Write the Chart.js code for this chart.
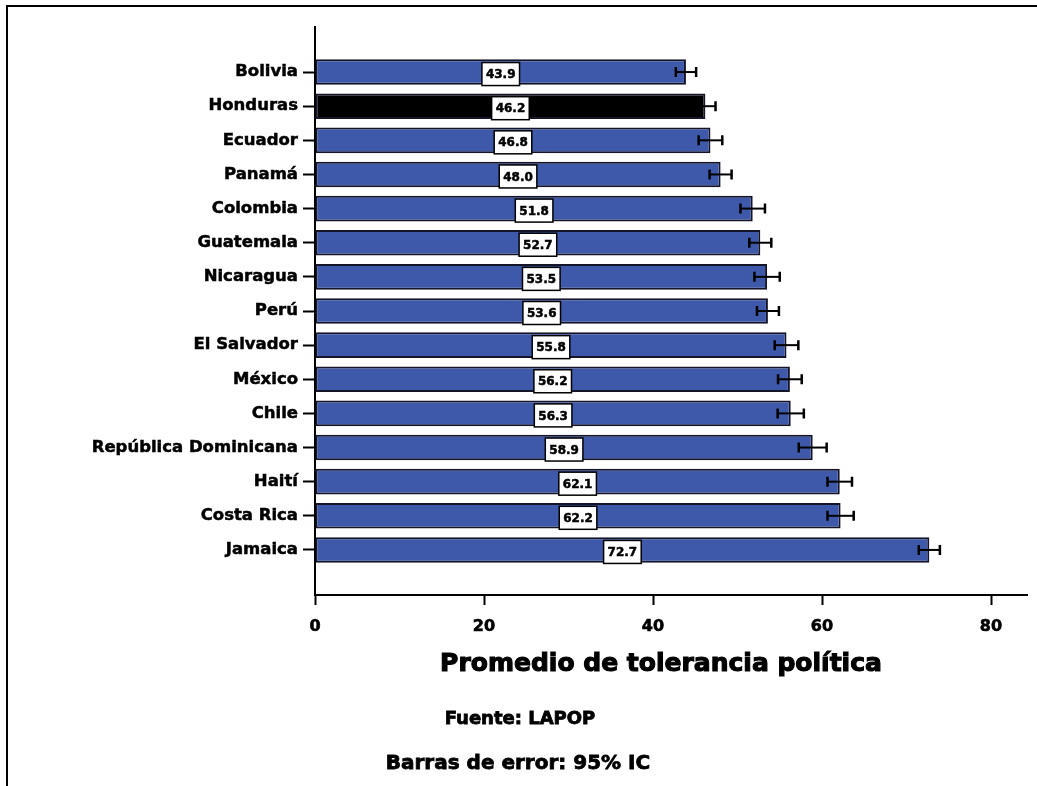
<!DOCTYPE html>
<html>
<head>
<meta charset="utf-8">
<script src="https://cdn.jsdelivr.net/npm/chart.js@4"></script>
<style>
  html, body { margin: 0; padding: 0; background: #fff; }
  #wrap { position: relative; width: 1037px; height: 786px; overflow: hidden; }
  #frame { position: absolute; left: 6px; top: 5px; width: 1100px; height: 900px;
           border-top: 2px solid #000; border-left: 2px solid #000; }
  canvas { position: absolute; left: 0; top: 0; }
  .note { position: absolute; width: 600px; text-align: center; color: #000;
          font-family: "DejaVu Sans", sans-serif; font-weight: bold; line-height: 1; white-space: nowrap;
          -webkit-text-stroke: 0.8px #000; }
</style>
</head>
<body>
<div id="wrap">
  <div id="frame"></div>
  <canvas id="chart" width="1037" height="786"></canvas>
  <div class="note" style="left:361px; top:650px; font-size:25px; -webkit-text-stroke: 1.1px #000;">Promedio de tolerancia política</div>
  <div class="note" style="left:220px; top:709px; font-size:18px;">Fuente: LAPOP</div>
  <div class="note" style="left:218px; top:752px; font-size:20px;">Barras de error: 95% IC</div>
</div>
<script>
const countries = ['Bolivia', 'Honduras', 'Ecuador', 'Panamá', 'Colombia', 'Guatemala', 'Nicaragua',
    'Perú', 'El Salvador', 'México', 'Chile', 'República Dominicana', 'Haití', 'Costa Rica', 'Jamaica'];
const values = [43.9, 46.2, 46.8, 48.0, 51.8, 52.7, 53.5, 53.6, 55.8, 56.2, 56.3, 58.9, 62.1, 62.2, 72.7];
// half width of the 95% confidence interval
const errors = [1.2, 1.2, 1.4, 1.3, 1.45, 1.3, 1.5, 1.3, 1.4, 1.4, 1.55, 1.65, 1.45, 1.55, 1.25];
const xTicks = [0, 20, 40, 60, 80];
const highlight = 'Honduras';

const blue = '#3e58aa';
const barColors = countries.map(c => c === highlight ? '#000000' : blue);

const errorBars = {
    id: 'errorBars',
    afterDatasetsDraw(chart) {
        const ctx = chart.ctx;
        const xs = chart.scales.x;
        const meta = chart.getDatasetMeta(0);
        ctx.save();
        ctx.strokeStyle = '#000';
        meta.data.forEach((bar, i) => {
            const lo = xs.getPixelForValue(values[i] - errors[i]);
            const hi = xs.getPixelForValue(values[i] + errors[i]);
            const y = bar.y;
            ctx.lineWidth = 2;
            ctx.beginPath();
            ctx.moveTo(lo, y);
            ctx.lineTo(hi, y);
            ctx.stroke();
            ctx.lineWidth = 2.5;
            ctx.beginPath();
            ctx.moveTo(lo, y - 5);
            ctx.lineTo(lo, y + 5);
            ctx.moveTo(hi, y - 5);
            ctx.lineTo(hi, y + 5);
            ctx.stroke();
        });
        ctx.restore();
    }
};

const valueBoxes = {
    id: 'valueBoxes',
    afterDatasetsDraw(chart) {
        const ctx = chart.ctx;
        const meta = chart.getDatasetMeta(0);
        ctx.save();
        ctx.font = 'bold 12px "DejaVu Sans"';
        ctx.textAlign = 'center';
        ctx.textBaseline = 'middle';
        meta.data.forEach((bar, i) => {
            const txt = values[i].toFixed(1);
            const cx = (bar.base + bar.x) / 2;
            const cy = bar.y + 2;
            const w = ctx.measureText(txt).width + 8;
            const h = 23;
            ctx.fillStyle = '#fff';
            ctx.fillRect(cx - w / 2, cy - h / 2, w, h);
            ctx.strokeStyle = '#000';
            ctx.lineWidth = 1.5;
            ctx.strokeRect(cx - w / 2, cy - h / 2, w, h);
            ctx.fillStyle = '#000';
            ctx.lineWidth = 0.5;
            ctx.strokeText(txt, cx, cy + 1);
            ctx.fillText(txt, cx, cy + 1);
        });
        ctx.restore();
    }
};

new Chart(document.getElementById('chart'), {
    type: 'bar',
    data: {
        datasets: [{
            data: values.map((v, i) => ({ x: v, y: i })),
            backgroundColor: barColors,
            borderColor: '#15152a',
            borderWidth: 2,
            borderSkipped: false,
            barPercentage: 0.75,
            categoryPercentage: 1.0
        }]
    },
    options: {
        indexAxis: 'y',
        responsive: false,
        animation: false,
        layout: { padding: { top: 27, right: 10, bottom: 0, left: 0 } },
        plugins: {
            legend: { display: false },
            tooltip: { enabled: false }
        },
        scales: {
            x: {
                type: 'linear',
                min: 0,
                max: 84.26,
                afterBuildTicks: s => { s.ticks = xTicks.map(v => ({ value: v })); },
                afterFit: s => { s.height = 191; },
                grid: { drawOnChartArea: false, tickLength: 10, tickColor: '#000', tickWidth: 2 },
                border: { display: true, color: '#000', width: 2 },
                ticks: {
                    color: '#000',
                    padding: 12,
                    textStrokeColor: '#000',
                    textStrokeWidth: 0.6,
                    font: { family: 'DejaVu Sans', weight: 'bold', size: 16 }
                }
            },
            y: {
                type: 'linear',
                reverse: true,
                offset: false,
                min: -1.32,
                max: 15.32,
                afterBuildTicks: s => { s.ticks = countries.map((c, i) => ({ value: i })); },
                afterFit: s => { s.width = 315; },
                grid: { offset: false, drawOnChartArea: false, tickLength: 12, tickColor: '#000', tickWidth: 2 },
                border: { display: true, color: '#000', width: 2 },
                ticks: {
                    color: '#000',
                    padding: 5,
                    autoSkip: false,
                    textStrokeColor: '#000',
                    textStrokeWidth: 0.5,
                    callback: v => countries[v],
                    font: { family: 'DejaVu Sans', weight: 'bold', size: 16.5 }
                }
            }
        }
    },
    plugins: [errorBars, valueBoxes]
});
</script>
</body>
</html>
